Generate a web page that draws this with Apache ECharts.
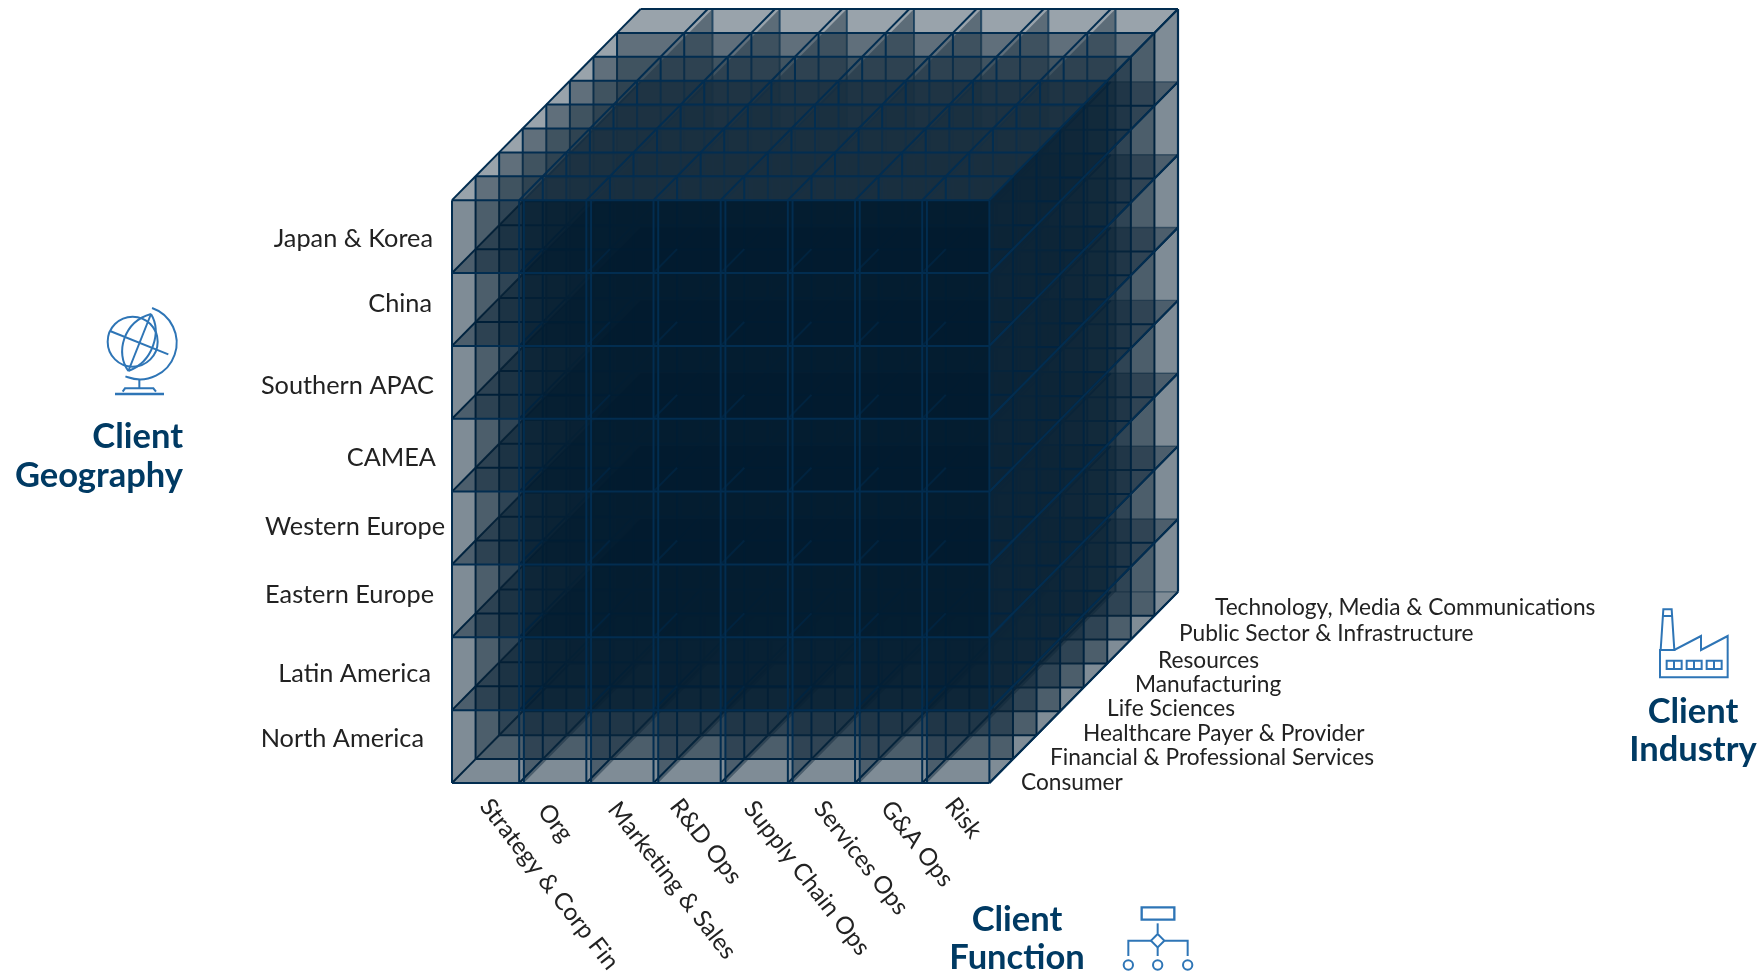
<!DOCTYPE html>
<html><head><meta charset="utf-8">
<style>html,body{margin:0;padding:0;background:#fff}#c{width:1759px;height:975px}</style>
<script src="https://cdn.jsdelivr.net/npm/echarts@6/dist/echarts.min.js"></script>
</head><body><div id="c"></div>
<script>
const geographies = ['Japan & Korea','China','Southern APAC','CAMEA','Western Europe','Eastern Europe','Latin America','North America'];
const functions_ = ['Strategy & Corp Fin','Org','Marketing & Sales','R&D Ops','Supply Chain Ops','Services Ops','G&A Ops','Risk'];
const industries = ['Consumer','Financial & Professional Services','Healthcare Payer & Provider','Life Sciences','Manufacturing','Resources','Public Sector & Infrastructure','Technology, Media & Communications'];

const NC = functions_.length, NR = geographies.length, ND = industries.length;
const DX = 0.351, DY = 0.328, SIDE_OFF = 0.07;
const DARK = '0,25,45', MID = '26,48,64', LINE = '#022d50';
const A_PLANE = 0.40, A_LAYER = 0.45, A_OUTER = 0.50;

function edges(n){ return Array.from({length:n+1},(_,i)=>i); }
const midSlices = industries.map((_,k)=>['slice',k]).filter(d=>d[1]>0).reverse();
const items = [['under',ND],...midSlices,['overlay',0],['slice',0],['frontEdges',0]];

function P(api,c,r,d){ return api.coord([c + d*DX, r - d*DY + ND*DY]); }
function poly(pts,a,col){ return {type:'polygon',silent:true,shape:{points:pts},style:{fill:`rgba(${col||DARK},${a})`,stroke:null}}; }
function seg(a,b,w,o){ return {type:'line',silent:true,shape:{x1:a[0],y1:a[1],x2:b[0],y2:b[1]},style:{stroke:LINE,lineWidth:w,fill:null,opacity:o==null?1:o}}; }
const off = i=> (i===0||i===NC) ? 0 : SIDE_OFF;
const clipDepth = j=> Math.min(ND, j/DY);

function renderItem(params,api){
  const kind = api.value(0), k = +api.value(1), ch = [];
  if(kind==='under'){
    for(const j of edges(NR)) if(j<NR){
      const D = clipDepth(j);
      if(D<ND && j>0 || j===0) {
        const pts = j===0
          ? [P(api,0,j,0),P(api,NC,j,0),P(api,NC,j,ND),P(api,0,j,ND)]
          : [P(api,NC,j,0),P(api,NC,j,ND),P(api,0,j,ND),P(api,0,j,D),P(api,NC-D*DX,j,D)];
        ch.push(poly(pts,A_PLANE));
      } else {
        ch.push(poly([P(api,NC,j,0),P(api,NC,j,ND),P(api,NC-ND*DX,j,ND)],A_PLANE));
      }
    }
    for(const i of edges(NC)) if(i>0&&i<NC){
      const c=i+off(i);
      ch.push(poly([P(api,c,0,0),P(api,c,0,ND),P(api,c,NR,ND),P(api,c,NR,0)],A_PLANE));
    }
    for(const j of edges(NR)) ch.push(seg(P(api,0,j,k),P(api,NC,j,k),j===0?2.2:1.4,j===0?1:0.5));
    for(const i of edges(NC)) if(i>0&&i<NC) ch.push(seg(P(api,i+off(i),0,k),P(api,i+off(i),NR,k),2,0.7));
  } else if(kind==='slice'){
    for(const i of edges(NC)) for(const j of edges(NR))
      ch.push(seg(P(api,i,j,k),P(api,i,j,k+1),2));
    if(k>0) ch.push(poly([P(api,0,0,k),P(api,NC,0,k),P(api,NC,NR,k),P(api,0,NR,k)],A_LAYER,MID));
    else ch.push(poly([P(api,0,0,k),P(api,NC,0,k),P(api,NC,NR,k),P(api,0,NR,k)],A_OUTER));
    for(const i of edges(NC)) ch.push(seg(P(api,i,0,k),P(api,i,NR,k),2));
    for(const j of edges(NR)) ch.push(seg(P(api,0,j,k),P(api,NC,j,k),2));
  } else if(kind==='overlay'){
    for(const j of edges(NR)) if(j>0&&j<NR){
      const D = clipDepth(j);
      ch.push(poly([P(api,0,j,0),P(api,NC,j,0),P(api,NC-D*DX,j,D),P(api,0,j,D)],A_PLANE));
    }
    ch.push(poly([P(api,NC,0,0),P(api,NC,0,ND),P(api,NC,NR,ND),P(api,NC,NR,0)],A_OUTER));
  } else {
    for(const i of edges(NC)) if(i>0&&i<NC) ch.push(seg(P(api,i+off(i),0,0),P(api,i+off(i),NR,0),2));
    for(const j of edges(NR)) ch.push(seg(P(api,NC,j,0),P(api,NC,j,ND),2));
    ch.push(seg(P(api,NC,0,ND),P(api,NC,NR,ND),2.2));
  }
  return {type:'group',children:ch};
}

const textColor = '#222222', headColor = '#003a63', iconColor = '#2e75b6';
function txt(s,x,y,align,size,rot){
  return {type:'text',x,y,rotation:rot||0,silent:true,
    style:{text:s,x:0,y:0,font:size+'px Lato, "Open Sans", sans-serif',fill:textColor,align,verticalAlign:'middle'}};
}
function head(lines,x,ys,align){
  return lines.map((s,i)=>({type:'text',x,y:ys[i],silent:true,
    style:{text:s,font:'bold 34.5px Lato, "Open Sans", sans-serif',fill:headColor,align,verticalAlign:'middle'}}));
}
const st = w=>({fill:null,stroke:iconColor,lineWidth:w||6});
const pl = (pts,w)=>({type:'polyline',shape:{points:pts},style:st(w)});
const pg = (pts,w)=>({type:'polygon',shape:{points:pts},style:st(w)});
const ci = (cx,cy,r,w)=>({type:'circle',shape:{cx,cy,r},style:st(w)});
const ar = (cx,cy,r,a,b)=>({type:'arc',shape:{cx,cy,r,startAngle:a,endAngle:b,clockwise:true},style:st()});
const cb = (x1,y1,c1x,c1y,c2x,c2y,x2,y2)=>({type:'bezierCurve',shape:{x1,y1,x2,y2,cpx1:c1x,cpy1:c1y,cpx2:c2x,cpy2:c2y},style:st()});
const icon = (x,y,children)=>({type:'group',x,y,scaleX:1/3,scaleY:1/3,silent:true,children});
const win = x=>[pg([[x,212],[x+45,212],[x+45,237],[x,237]]),pl([[x+22,212],[x+22,237]])];

const geoPos = [[433,239],[432,304],[434,386],[436,458],[445,527],[434,595],[431,674],[424,739]];
const indPos = [[1021,783],[1050,758],[1083,734],[1107,709],[1135,685],[1158,661],[1179,634],[1215,608]];
const fnPos = [[485,802],[543,807],[613,805],[675,802],[749,804],[819,804],[886,804],[950,801]];
const ROT = -52*Math.PI/180;
const deg = Math.PI/180;

const graphics = [
  ...geographies.map((s,i)=>txt(s,geoPos[i][0],geoPos[i][1],'right',25.3)),
  ...industries.map((s,i)=>txt(s,indPos[i][0],indPos[i][1],'left',22.7)),
  ...functions_.map((s,i)=>txt(s,fnPos[i][0],fnPos[i][1],'left',24.2,ROT)),
  ...head(['Client','Geography'],183,[437,476],'right'),
  ...head(['Client','Industry'],1693,[712,750],'center'),
  ...head(['Client','Function'],1017,[920,958],'center'),
  icon(60,290,[
    ci(218,155,75),
    ar(240,158,110,-70.8*deg,113.4*deg),
    pl([[273,72],[205,243]]),
    cb(273,72,190,95,165,190,205,243),
    cb(273,72,305,125,280,215,205,243),
    pl([[150,123],[325,193]]),
    pl([[238,270],[238,295]]),
    pl([[188,305],[195,295],[280,295],[288,305]]),
    pl([[165,312],[312,312]],7)
  ]),
  icon(1640,590,[
    pg([[62,180],[70,58],[95,58],[103,180]]),
    pl([[68,78],[96,78]]),
    pg([[60,180],[103,180],[183,138],[183,180],[263,138],[263,262],[60,262]]),
    ...win(80),...win(140),...win(200)
  ]),
  icon(1100,880,[
    pg([[125,82],[223,82],[223,119],[125,119]],7),
    pl([[173,130],[173,160]]),
    pg([[173,162],[193,182],[173,202],[153,182]]),
    pl([[173,202],[173,228]]),
    pl([[153,182],[85,182],[85,228]]),
    pl([[193,182],[263,182],[263,228]]),
    ci(85,255,14),ci(173,255,14),ci(263,255,14)
  ])
];

const chart = echarts.init(document.getElementById('c'));
chart.setOption({
  animation:false,
  backgroundColor:'#fff',
  grid:{left:452,top:9,width:726,height:774,containLabel:false},
  xAxis:{type:'value',min:0,max:NC+ND*DX,show:false},
  yAxis:{type:'value',min:0,max:NR+ND*DY,inverse:true,show:false},
  series:[{
    type:'custom',coordinateSystem:'cartesian2d',silent:true,clip:false,
    renderItem,
    encode:{x:1,y:1},
    data:items
  }],
  graphic:graphics
});
</script></body></html>
